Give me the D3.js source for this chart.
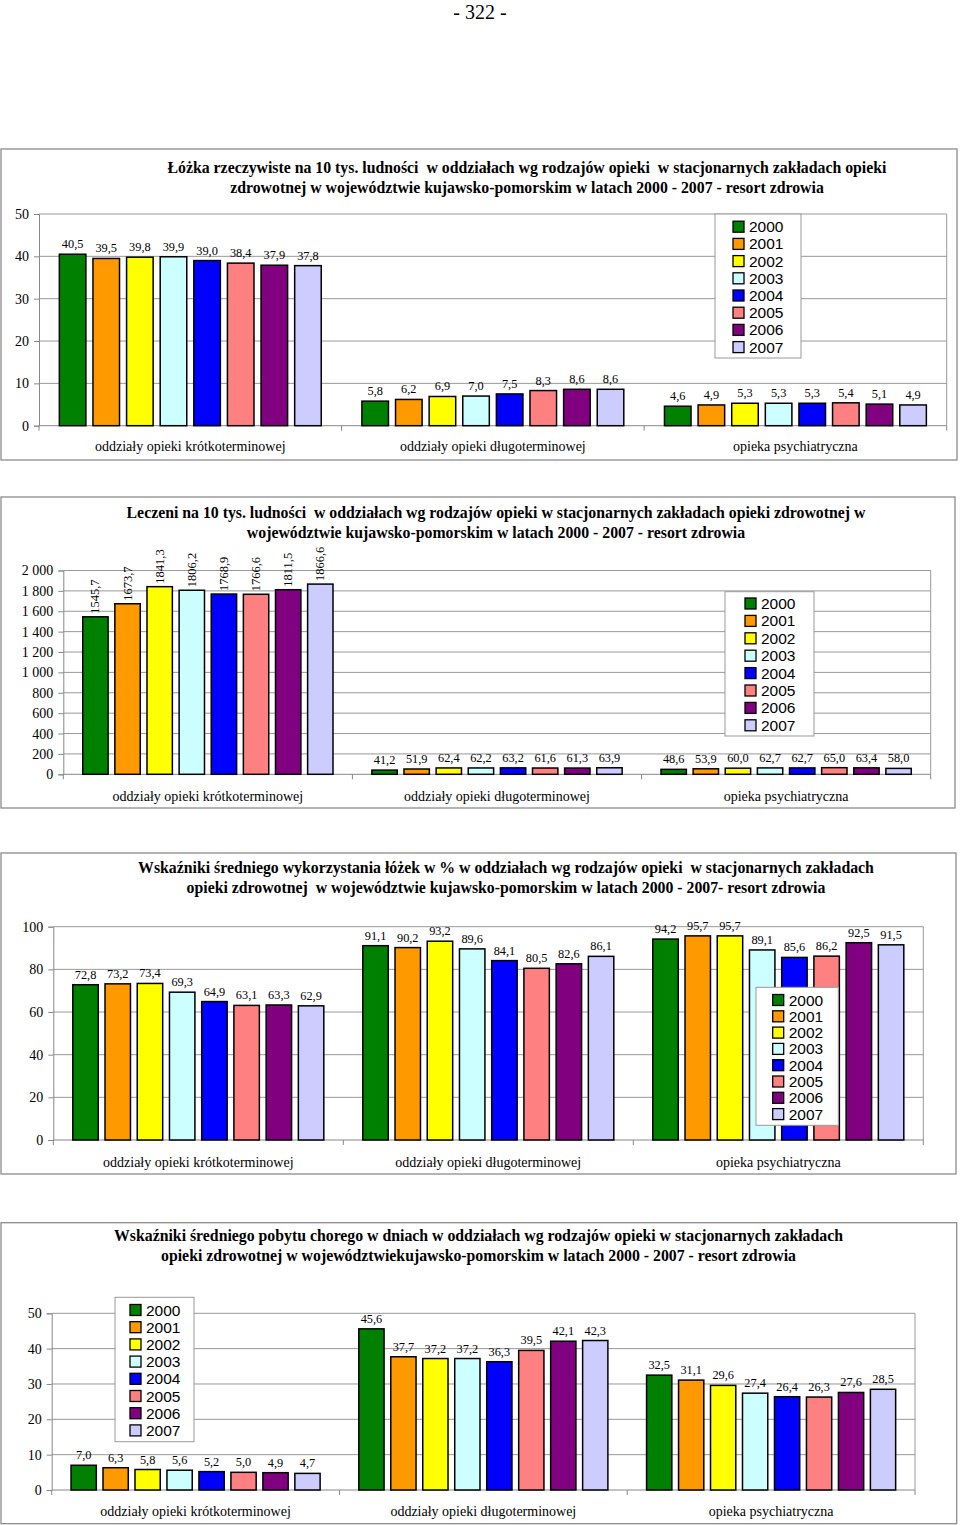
<!DOCTYPE html>
<html><head><meta charset="utf-8">
<script src="https://cdn.jsdelivr.net/npm/d3@7"></script>
<style>body{margin:0;background:#fff} svg{display:block}</style>
</head><body>
<script>
// ---------- data ----------
const years = ["2000","2001","2002","2003","2004","2005","2006","2007"];
const yearColors = ["#008000","#FF9900","#FFFF00","#CCFFFF","#0000FF","#FF8080","#800080","#CCCCFF"];
const categories = ["oddziały opieki krótkoterminowej","oddziały opieki długoterminowej","opieka psychiatryczna"];

// Łóżka rzeczywiste na 10 tys. ludności
const bedsShort = [40.5,39.5,39.8,39.9,39.0,38.4,37.9,37.8];
const bedsLong  = [5.8,6.2,6.9,7.0,7.5,8.3,8.6,8.6];
const bedsPsych = [4.6,4.9,5.3,5.3,5.3,5.4,5.1,4.9];
const bedsTicks = [0,10,20,30,40,50];

// Leczeni na 10 tys. ludności
const treatedShort = [1545.7,1673.7,1841.3,1806.2,1768.9,1766.6,1811.5,1866.6];
const treatedLong  = [41.2,51.9,62.4,62.2,63.2,61.6,61.3,63.9];
const treatedPsych = [48.6,53.9,60.0,62.7,62.7,65.0,63.4,58.0];
const treatedTicks = [0,200,400,600,800,1000,1200,1400,1600,1800,2000];

// Wskaźniki średniego wykorzystania łóżek w %
const occupancyShort = [72.8,73.2,73.4,69.3,64.9,63.1,63.3,62.9];
const occupancyLong  = [91.1,90.2,93.2,89.6,84.1,80.5,82.6,86.1];
const occupancyPsych = [94.2,95.7,95.7,89.1,85.6,86.2,92.5,91.5];
const occupancyTicks = [0,20,40,60,80,100];

// Wskaźniki średniego pobytu chorego w dniach
const stayShort = [7.0,6.3,5.8,5.6,5.2,5.0,4.9,4.7];
const stayLong  = [45.6,37.7,37.2,37.2,36.3,39.5,42.1,42.3];
const stayPsych = [32.5,31.1,29.6,27.4,26.4,26.3,27.6,28.5];
const stayTicks = [0,10,20,30,40,50];

const bedsTitle = ["Łóżka rzeczywiste na 10 tys. ludności  w oddziałach wg rodzajów opieki  w stacjonarnych zakładach opieki",
                   "zdrowotnej w województwie kujawsko-pomorskim w latach 2000 - 2007 - resort zdrowia"];
const treatedTitle = ["Leczeni na 10 tys. ludności  w oddziałach wg rodzajów opieki w stacjonarnych zakładach opieki zdrowotnej w",
                      "województwie kujawsko-pomorskim w latach 2000 - 2007 - resort zdrowia"];
const occupancyTitle = ["Wskaźniki średniego wykorzystania łóżek w % w oddziałach wg rodzajów opieki  w stacjonarnych zakładach",
                        "opieki zdrowotnej  w województwie kujawsko-pomorskim w latach 2000 - 2007- resort zdrowia"];
const stayTitle = ["Wskaźniki średniego pobytu chorego w dniach w oddziałach wg rodzajów opieki w stacjonarnych zakładach",
                   "opieki zdrowotnej w województwiekujawsko-pomorskim w latach 2000 - 2007 - resort zdrowia"];

// ---------- drawing ----------
const W = 960, H = 1525;
const svg = d3.select("body").append("svg").attr("width", W).attr("height", H);
svg.append("rect").attr("width", W).attr("height", H).attr("fill", "#fff");

const SERIF = "'Liberation Serif','Times New Roman',serif";
const SANS = "'Liberation Sans',Arial,sans-serif";

svg.append("text").attr("x", 480).attr("y", 19).attr("text-anchor", "middle")
  .attr("font-family", SERIF).attr("font-size", 20).text("- 322 -");

const fmtComma = v => d3.format(".1f")(v).replace(".", ",");
const fmtTick = v => d3.format(",")(v).replace(/,/g, " ");

function drawChart(c) {
  const g = svg.append("g");
  g.append("rect").attr("x", c.frame[0]).attr("y", c.frame[1]).attr("width", c.frame[2]).attr("height", c.frame[3])
    .attr("fill", "#fff").attr("stroke", "#8c8c8c").attr("stroke-width", 1.3);

  c.title.forEach((t, i) => {
    g.append("text").attr("x", c.titleX).attr("y", c.titleY[i]).attr("text-anchor", "middle")
      .attr("font-family", SERIF).attr("font-weight", "bold").attr("font-size", c.titleSize || 15.8)
      .style("white-space", "pre").text(t);
  });

  const [L, R, T, B] = c.plot;
  const y = d3.scaleLinear().domain([0, d3.max(c.ticks)]).range([B, T]);
  const x0 = d3.scaleBand().domain(categories).range([L, R]).paddingInner(0).paddingOuter(0);
  const x1 = d3.scaleBand().domain(years).range([0, x0.bandwidth()]).paddingOuter(0.5).paddingInner(0);

  // gridlines
  g.append("g").selectAll("line").data(c.ticks.filter(t => t > 0)).join("line")
    .attr("x1", L).attr("x2", R).attr("y1", d => y(d)).attr("y2", d => y(d))
    .attr("stroke", "#999").attr("stroke-width", 1);
  // plot right border
  g.append("line").attr("x1", R).attr("x2", R).attr("y1", T).attr("y2", B).attr("stroke", "#999");

  // y axis
  const yAxis = d3.axisLeft(y).tickValues(c.ticks).tickSize(5).tickPadding(5).tickFormat(fmtTick);
  const ya = g.append("g").attr("transform", `translate(${L},0)`).call(yAxis);
  ya.select(".domain").attr("stroke", "#888");
  ya.selectAll(".tick line").attr("stroke", "#888");
  ya.selectAll(".tick text").attr("font-family", SERIF).attr("font-size", 14).attr("fill", "#000");

  // x axis
  const xa = g.append("g").attr("transform", `translate(0,${B})`);
  xa.append("line").attr("x1", L).attr("x2", R).attr("stroke", "#888");
  xa.selectAll("line.tk").data(d3.range(4)).join("line").attr("class", "tk")
    .attr("x1", i => L + i * x0.bandwidth()).attr("x2", i => L + i * x0.bandwidth())
    .attr("y1", 0).attr("y2", 5).attr("stroke", "#888");
  xa.selectAll("text").data(categories).join("text")
    .attr("x", d => x0(d) + x0.bandwidth() / 2).attr("y", c.catDy)
    .attr("text-anchor", "middle").attr("font-family", SERIF).attr("font-size", 14).text(d => d);

  // bars
  const barW = x1.step() * 0.79;
  c.series.forEach((vals, ci) => {
    const cat = categories[ci];
    const gg = g.append("g");
    const rows = vals.map((v, i) => ({ v, yr: years[i], col: yearColors[i] }));
    gg.selectAll("rect").data(rows).join("rect")
      .attr("x", d => x0(cat) + x1(d.yr) + (x1.step() - barW) / 2)
      .attr("y", d => y(d.v)).attr("width", barW).attr("height", d => B - y(d.v))
      .attr("fill", d => d.col).attr("stroke", "#000").attr("stroke-width", 1.5);
    const rot = c.rotateGroups && c.rotateGroups.includes(ci);
    gg.selectAll("text").data(rows).join("text")
      .attr("font-family", SERIF).attr("font-size", rot ? 12.5 : 12.3)
      .attr("text-anchor", rot ? "start" : "middle")
      .attr("transform", d => {
        const cx = x0(cat) + x1(d.yr) + x1.step() / 2;
        return rot ? `translate(${cx + 4},${y(d.v) - 3}) rotate(-90)` : `translate(${cx},${y(d.v) - 6})`;
      })
      .text(d => fmtComma(d.v));
  });

  // legend
  const [lx, ly, lw, lh] = c.legend;
  const lg = g.append("g");
  lg.append("rect").attr("x", lx).attr("y", ly).attr("width", lw).attr("height", lh)
    .attr("fill", "#fff").attr("stroke", "#999").attr("stroke-width", 1);
  years.forEach((yr, i) => {
    const cy = ly + c.legFirst + i * c.legStep;
    lg.append("rect").attr("x", lx + c.legSqX).attr("y", cy - 5.5).attr("width", 11).attr("height", 11)
      .attr("fill", yearColors[i]).attr("stroke", "#000").attr("stroke-width", 1.3);
    lg.append("text").attr("x", lx + c.legSqX + 16).attr("y", cy + 5.5)
      .attr("font-family", SANS).attr("font-size", 15.5).text(yr);
  });
}

drawChart({
  frame: [1, 149, 956, 311], title: bedsTitle, titleX: 527, titleY: [173, 193],
  plot: [39, 946.7, 214, 425.7], ticks: bedsTicks, series: [bedsShort, bedsLong, bedsPsych],
  catDy: 25.5, legend: [715, 214, 86, 144], legFirst: 12.7, legStep: 17.2, legSqX: 18
});
drawChart({
  frame: [1, 497, 954, 311], title: treatedTitle, titleX: 496, titleY: [518, 538],
  plot: [63.3, 930.7, 570.5, 774.3], ticks: treatedTicks, series: [treatedShort, treatedLong, treatedPsych],
  catDy: 26.5, legend: [725, 591.7, 89, 144.3], legFirst: 11.8, legStep: 17.4, legSqX: 20, rotateGroups: [0]
});
drawChart({
  frame: [1, 853, 955, 321], title: occupancyTitle, titleX: 506, titleY: [872.5, 892.5],
  plot: [53.3, 923.3, 926.7, 1140], ticks: occupancyTicks, series: [occupancyShort, occupancyLong, occupancyPsych],
  catDy: 26.5, legend: [756, 987.3, 82.3, 138], legFirst: 12.7, legStep: 16.3, legSqX: 16.7
});
drawChart({
  frame: [1, 1222.7, 955.7, 301], title: stayTitle, titleX: 478.5, titleY: [1240.5, 1260.5],
  plot: [51.7, 915, 1313.3, 1490], ticks: stayTicks, series: [stayShort, stayLong, stayPsych],
  catDy: 26, legend: [115, 1297.3, 79, 144.4], legFirst: 12.7, legStep: 17.2, legSqX: 15
});
</script>
</body></html>
